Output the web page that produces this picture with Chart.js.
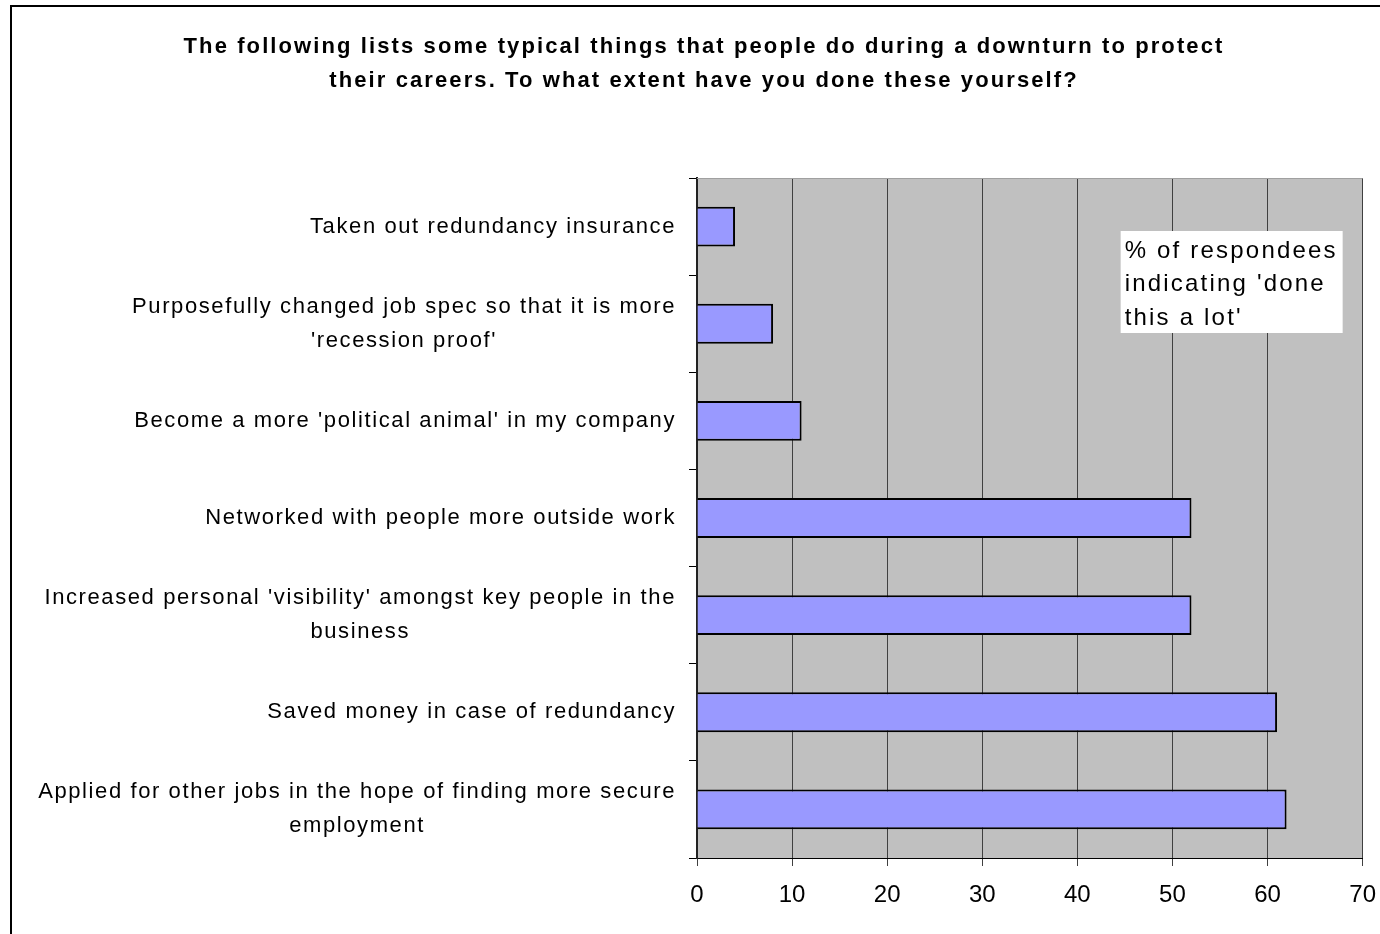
<!DOCTYPE html>
<html>
<head>
<meta charset="utf-8">
<script src="https://cdn.jsdelivr.net/npm/chart.js@4"></script>
<style>
  body { margin: 0; background: #fff; }
  #wrap { width: 1380px; height: 934px; }
</style>
</head>
<body>
<div id="wrap"><canvas id="careerChart"></canvas></div>
<script>
const categories = [
  "Taken out redundancy insurance",
  ["Purposefully changed job spec so that it is more", "'recession proof'"],
  "Become a more 'political animal' in my company",
  "Networked with people more outside work",
  ["Increased personal 'visibility' amongst key people in the", "business"],
  "Saved money in case of redundancy",
  ["Applied for other jobs in the hope of finding more secure", "employment"]
];
const doneALot = [4, 8, 11, 52, 52, 61, 62];
const titleLines = [
  "The following lists some typical things that people do during a downturn to protect",
  "their careers. To what extent have you done these yourself?"
];
const legendLines = ["% of respondees", "indicating 'done", "this a lot'"];

const FONT = "'Liberation Sans', Arial, sans-serif";

// grey plot background, frame, title text, the white note box and category labels
const plotDecor = {
  id: "plotDecor",
  beforeDraw(chart) {
    const { ctx, chartArea: a } = chart;
    ctx.save();
    ctx.fillStyle = "#C0C0C0";
    ctx.fillRect(a.left, a.top, a.right - a.left, a.bottom - a.top);
    // outer frame (only left and top edges show)
    ctx.strokeStyle = "#000";
    ctx.lineWidth = 2;
    ctx.beginPath();
    ctx.moveTo(11, chart.height);
    ctx.lineTo(11, 6);
    ctx.lineTo(chart.width, 6);
    ctx.stroke();
    ctx.restore();
  },
  afterDraw(chart) {
    const { ctx, chartArea: a } = chart;
    ctx.save();
    ctx.strokeStyle = "#A0A0A0";
    ctx.lineWidth = 1;
    ctx.beginPath();
    ctx.moveTo(a.left, a.top + 0.5);
    ctx.lineTo(a.right, a.top + 0.5);
    ctx.stroke();

    ctx.fillStyle = "#000";
    ctx.textBaseline = "middle";

    // title (space reserved by the title plugin, text drawn wider here)
    const tb = chart.titleBlock;
    ctx.font = "bold 22px " + FONT;
    ctx.letterSpacing = "2.1px";
    ctx.textAlign = "center";
    titleLines.forEach((t, i) => {
      ctx.fillText(t, (tb.left + tb.right) / 2, tb.top + 30 + 17 + i * 34);
    });

    // note box
    const bx = a.right - 242, by = a.top + 53;
    ctx.fillStyle = "#fff";
    ctx.fillRect(bx, by, 222, 102);
    ctx.fillStyle = "#000";
    ctx.font = "24px " + FONT;
    ctx.letterSpacing = "2.2px";
    ctx.textAlign = "left";
    legendLines.forEach((t, i) => ctx.fillText(t, bx + 4, by + 20 + i * 33.5));

    // category labels: block right aligned, lines centred inside block
    const y = chart.scales.y;
    const right = a.left - 21;
    ctx.font = "22px " + FONT;
    ctx.letterSpacing = "1.6px";
    categories.forEach((lab, i) => {
      const lines = Array.isArray(lab) ? lab : [lab];
      const w = Math.max(...lines.map(l => ctx.measureText(l).width));
      const cx = right - w / 2;
      const cy = y.getPixelForValue(i);
      ctx.textAlign = "center";
      lines.forEach((l, j) => {
        ctx.fillText(l, cx, cy + (j - (lines.length - 1) / 2) * 34);
      });
    });
    ctx.restore();
  }
};

new Chart(document.getElementById("careerChart"), {
  type: "bar",
  data: {
    labels: categories,
    datasets: [{
      label: "% of respondees indicating 'done this a lot'",
      data: doneALot,
      backgroundColor: "#9999FF",
      borderColor: "#000",
      borderWidth: 2,
      categoryPercentage: 1,
      barPercentage: 0.41
    }]
  },
  options: {
    indexAxis: "y",
    responsive: true,
    maintainAspectRatio: false,
    animation: false,
    layout: { padding: { left: 28, right: 0, top: 0, bottom: 0 } },
    plugins: {
      legend: { display: false },
      tooltip: { enabled: false },
      title: {
        display: true,
        text: titleLines,
        color: "rgba(0,0,0,0)",
        font: { family: FONT, size: 22, weight: "bold", lineHeight: 34 / 22 },
        padding: { top: 30, bottom: 80 }
      }
    },
    scales: {
      x: {
        min: 0,
        max: 70,
        ticks: {
          stepSize: 10,
          color: "#000",
          padding: 4,
          font: { family: FONT, size: 24, lineHeight: 2.1 }
        },
        grid: { color: "#404040", lineWidth: 1, tickLength: 8 },
        border: { color: "#000", width: 1 },
        afterFit(s) { s.height = 76; }
      },
      y: {
        ticks: { color: "rgba(0,0,0,0)", font: { family: FONT, size: 22 } },
        grid: { drawOnChartArea: false, color: "#000", tickLength: 8 },
        border: { color: "#222", width: 2 },
        afterFit(s) { s.width = 669; }
      }
    }
  },
  plugins: [plotDecor]
});
</script>
</body>
</html>
